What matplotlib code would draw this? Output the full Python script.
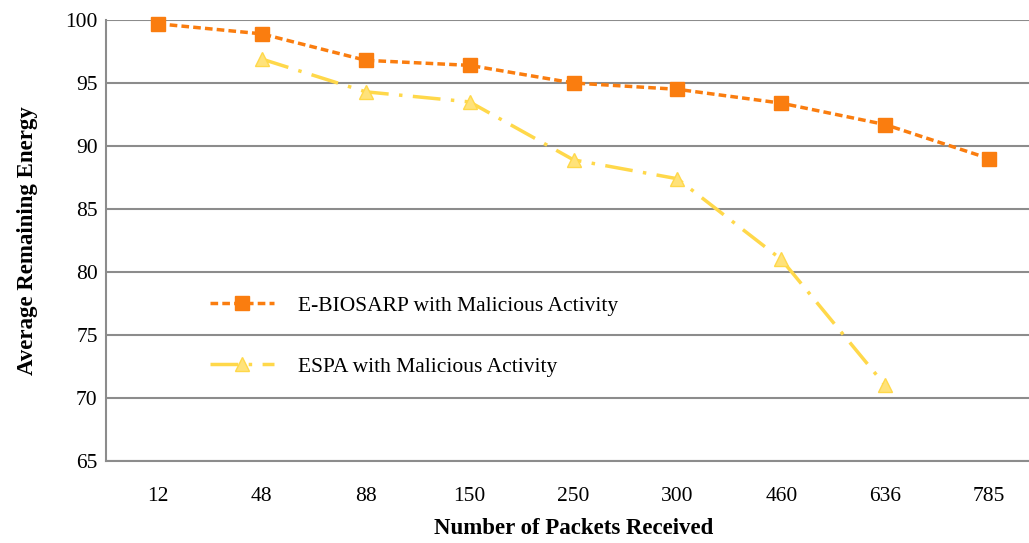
import matplotlib.pyplot as plt

plt.rcParams['font.family'] = ['Liberation Serif', 'DejaVu Serif']

# packets received (categorical x axis)
packets = ["12", "48", "88", "150", "250", "300", "460", "636", "785"]

# average remaining energy per protocol
biosarp = [99.7, 98.9, 96.8, 96.4, 95.0, 94.5, 93.4, 91.7, 89.0]
espa_idx = [1, 2, 3, 4, 5, 6, 7]
espa = [96.9, 94.3, 93.5, 88.9, 87.4, 81.0, 71.0]

orange = "#FA7D0F"
yellow = "#FFD84A"
grid_col = "#8C8C8C"

fig = plt.figure(figsize=(10.29, 5.43), dpi=100)
ax = fig.add_axes([106 / 1029, 82 / 543, 935 / 1029, 441 / 543])

ax.plot(range(len(packets)), biosarp, color=orange, lw=2.5, ls=(0, (2.2, 1.2)),
        marker="s", ms=10, mfc=orange, mec=orange, clip_on=False,
        label="E-BIOSARP with Malicious Activity", zorder=3)
ax.plot(espa_idx, espa, color=yellow, lw=2.5, ls=(0, (8, 3, 1, 3)),
        marker="^", ms=10, mfc="#FFE27A", mec=yellow, clip_on=False,
        label="ESPA with Malicious Activity", zorder=3)

ax.set_xlim(-0.5, 8.5)
ax.set_ylim(65, 100)
ax.set_yticks(range(65, 101, 5))
ax.set_xticks(range(len(packets)))
ax.set_xticklabels(packets)
ax.yaxis.grid(True, color=grid_col, lw=1.5)
ax.set_axisbelow(True)
ax.tick_params(length=0, labelsize=15.5)
ax.tick_params(axis="x", pad=19)
ax.tick_params(axis="y", pad=6)

for s in ["top", "right"]:
    ax.spines[s].set_visible(False)
ax.spines["left"].set_color(grid_col)
ax.spines["left"].set_linewidth(1.5)
ax.spines["bottom"].set_color(grid_col)
ax.spines["bottom"].set_linewidth(1.5)

ax.set_xlabel("Number of Packets Received", fontsize=16.5, fontweight="bold", labelpad=8)
ax.set_ylabel("Average Remaining Energy", fontsize=16.5, fontweight="bold", labelpad=20)

ax.legend(loc="center left", bbox_to_anchor=(0.111, 0.283), frameon=False,
          fontsize=15.5, handlelength=3.0, handletextpad=1.1, labelspacing=1.9,
          borderpad=0, borderaxespad=0)

fig.savefig("out.png", dpi=100)
